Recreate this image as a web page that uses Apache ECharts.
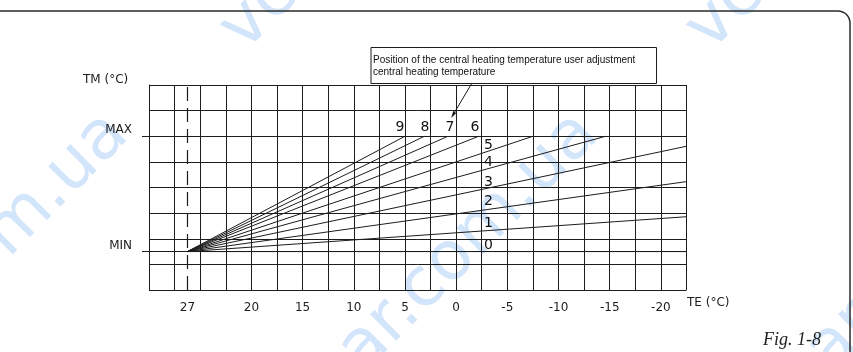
<!DOCTYPE html>
<html>
<head>
<meta charset="utf-8">
<script src="https://cdn.jsdelivr.net/npm/echarts@6/dist/echarts.min.js"></script>
<style>
html,body{margin:0;padding:0;background:#fff;}
#chart{width:853px;height:352px;}
</style>
</head>
<body>
<div id="chart"></div>
<script>
// ---- data ----
const teTickPositions = [26.25, 20, 15, 10, 5, 0, -5, -10, -15, -20];
const teTickLabels = ['27', '20', '15', '10', '5', '0', '-5', '-10', '-15', '-20'];
const tmMarks = [35, 80];
const tmMarkLabels = ['MIN', 'MAX'];
const curveNames = ['0', '1', '2', '3', '4', '5', '6', '7', '8', '9'];
const originTE = 26.25;
const originTM = 35;
const curveEndTE = [-22.5, -22.5, -22.5, -22.5, -14.6, -7.5, -2.2, 0.8, 3.1, 5.0];
const curveEndTM = [35, 48.6, 62.3, 76.1, 80, 80, 80, 80, 80, 80];
const curveLabelTE = [-3.15, -3.15, -3.15, -3.15, -3.15, -3.15, -1.84, 0.6, 3.05, 5.49];
const curveLabelTM = [37.6, 46.2, 54.6, 62.2, 69.8, 76.6, 83.3, 83.3, 83.3, 83.3];
const noteLines = ['Position of the central heating temperature user adjustment', 'central heating temperature'];

const ink = '#1c1c1c';
const techFont = 'DejaVu Sans';

function teLabel(v) {
  for (let i = 0; i < teTickPositions.length; i++) {
    if (Math.abs(teTickPositions[i] - v) < 1e-6) return teTickLabels[i];
  }
  return '';
}
function tmLabel(v) {
  for (let i = 0; i < tmMarks.length; i++) {
    if (Math.abs(tmMarks[i] - v) < 1e-6) return tmMarkLabels[i];
  }
  return '';
}

const series = curveNames.map((name, i) => ({
  type: 'line',
  name: name,
  silent: true,
  symbol: 'none',
  lineStyle: { color: ink, width: 1 },
  data: [[originTE, originTM], [curveEndTE[i], curveEndTM[i]]],
  z: 3
}));

series.push({
  type: 'scatter',
  silent: true,
  symbolSize: 1,
  itemStyle: { color: 'rgba(0,0,0,0)', opacity: 1 },
  label: {
    show: true,
    position: 'inside',
    formatter: p => p.data[2],
    fontFamily: techFont,
    fontSize: 14,
    color: '#111',
    opacity: 1,
    textBorderWidth: 0,
    textBorderColor: 'transparent'
  },
  data: curveNames.map((n, i) => [curveLabelTE[i], curveLabelTM[i], n]),
  markLine: {
    silent: true,
    symbol: 'none',
    label: { show: false },
    animation: false,
    data: [
      { yAxis: originTM, lineStyle: { color: ink, width: 1, type: 'solid', opacity: 1 } },
      { xAxis: originTE, lineStyle: { color: ink, width: 1.2, type: [14, 7], opacity: 1 } }
    ]
  },
  z: 4
});

// watermark fragments
const wmStyle = { fill: '#d2e5fb', fontSize: 68, fontFamily: 'DejaVu Sans', align: 'left', verticalAlign: 'middle' };
const wmRot = Math.PI / 4;
const watermarks = [
  { x: -120, y: 362, t: 'ar.com.ua' },
  { x: 350, y: 362, t: 'ar.com.ua' },
  { x: 818, y: 362, t: 'ar.com.ua' },
  { x: 232, y: 40, t: 'vc' },
  { x: 698, y: 40, t: 'vc' }
].map(w => ({
  type: 'text', x: w.x, y: w.y, rotation: wmRot, z: -10, silent: true,
  style: Object.assign({ text: w.t }, wmStyle)
}));

// frame with rounded top-right corner
const framePts = [[-2, 11], [838, 11]];
for (let k = 1; k <= 8; k++) {
  const a = -Math.PI / 2 + (Math.PI / 2) * k / 8;
  framePts.push([838 + 12 * Math.cos(a), 23 + 12 * Math.sin(a)]);
}
framePts.push([850, 354]);

// arrow head
const tip = [451.2, 118];
const from = [471.7, 83.5];
const dx = tip[0] - from[0], dy = tip[1] - from[1];
const len = Math.sqrt(dx * dx + dy * dy);
const ux = dx / len, uy = dy / len;
const bx = tip[0] - ux * 7, by = tip[1] - uy * 7;
const px = -uy, py = ux;

const option = {
  animation: false,
  backgroundColor: '#ffffff',
  grid: { left: 149, top: 85, right: 166.5, bottom: 62, containLabel: false },
  xAxis: {
    type: 'value',
    min: -22.5,
    max: 30,
    interval: 2.5,
    inverse: true,
    axisLine: { show: false },
    axisTick: { show: false },
    splitLine: { show: true, lineStyle: { color: ink, width: 1 } },
    axisLabel: {
      customValues: teTickPositions,
      formatter: v => teLabel(v),
      margin: 12,
      fontFamily: techFont,
      fontSize: 12,
      color: ink
    }
  },
  yAxis: [
    {
      type: 'value',
      min: 20,
      max: 100,
      interval: 10,
      axisLine: { show: false },
      axisTick: { show: false },
      axisLabel: { show: false },
      splitLine: { show: true, lineStyle: { color: ink, width: 1 } }
    },
    {
      type: 'value',
      min: 20,
      max: 100,
      position: 'left',
      axisLine: { show: true, lineStyle: { color: ink, width: 1 } },
      axisTick: { show: true, customValues: tmMarks, length: 7, lineStyle: { color: ink, width: 1 } },
      splitLine: { show: false },
      axisLabel: {
        customValues: tmMarks,
        formatter: v => tmLabel(v),
        margin: 17,
        verticalAlign: 'bottom',
        fontFamily: techFont,
        fontSize: 12,
        color: ink
      }
    }
  ],
  series: series,
  graphic: watermarks.concat([
    {
      type: 'polyline', silent: true,
      shape: { points: framePts },
      style: { stroke: '#2a2a2a', lineWidth: 1.5, fill: null }
    },
    {
      type: 'rect', silent: true,
      shape: { x: 371, y: 47.5, width: 285.5, height: 36 },
      style: { fill: '#fff', stroke: ink, lineWidth: 1 }, z: 10
    },
    {
      type: 'text', silent: true, x: 373, y: 60, z: 11,
      style: { text: noteLines[0], fontFamily: 'Liberation Sans', fontSize: 10, fill: '#111', verticalAlign: 'middle' }
    },
    {
      type: 'text', silent: true, x: 373, y: 72.5, z: 11,
      style: { text: noteLines[1], fontFamily: 'Liberation Sans', fontSize: 10, fill: '#111', verticalAlign: 'middle' }
    },
    {
      type: 'line', silent: true, z: 11,
      shape: { x1: from[0], y1: from[1], x2: bx, y2: by },
      style: { stroke: ink, lineWidth: 1 }
    },
    {
      type: 'polygon', silent: true, z: 11,
      shape: { points: [[tip[0], tip[1]], [bx + px * 1.8, by + py * 1.8], [bx - px * 1.8, by - py * 1.8]] },
      style: { fill: ink }
    },
    {
      type: 'text', silent: true, x: 83, y: 80,
      style: { text: 'TM (°C)', fontFamily: techFont, fontSize: 12, fill: ink, verticalAlign: 'middle' }
    },
    {
      type: 'text', silent: true, x: 687, y: 303,
      style: { text: 'TE (°C)', fontFamily: techFont, fontSize: 12, fill: ink, verticalAlign: 'middle' }
    },
    {
      type: 'text', silent: true, x: 763, y: 340,
      style: { text: 'Fig. 1-8', fontFamily: 'Liberation Serif', fontStyle: 'italic', fontSize: 18, fill: '#222', verticalAlign: 'middle' }
    }
  ])
};

const chart = echarts.init(document.getElementById('chart'), null, { renderer: 'canvas' });
chart.setOption(option);
</script>
</body>
</html>
